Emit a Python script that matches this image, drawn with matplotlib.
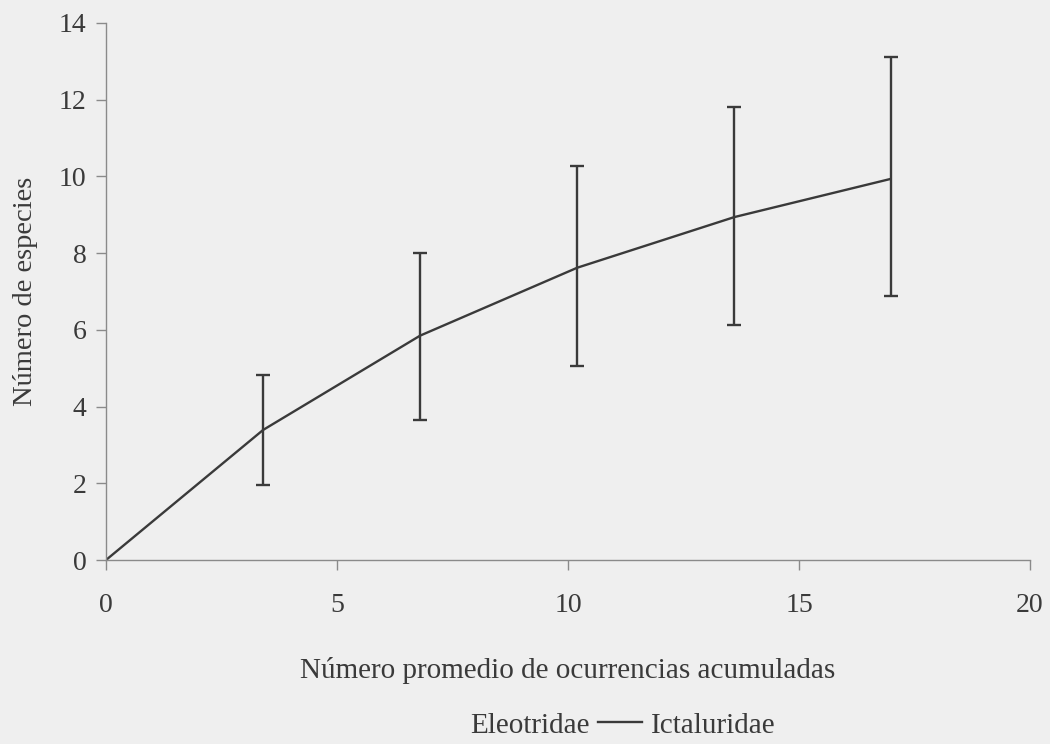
import numpy as np
import matplotlib
matplotlib.use("Agg")
import matplotlib.pyplot as plt
from matplotlib.lines import Line2D

# Species accumulation curve (Ictaluridae) with error bars
occurrences = [0, 3.4, 6.8, 10.2, 13.6, 17.0]
species_mean = [0, 3.39, 5.85, 7.62, 8.94, 9.94]
species_upper = [0, 4.83, 8.01, 10.26, 11.82, 13.11]
species_lower = [0, 1.95, 3.64, 5.07, 6.12, 6.88]
series_names = ["Eleotridae", "Ictaluridae"]
x_ticks = [0, 5, 10, 15, 20]
y_ticks = [0, 2, 4, 6, 8, 10, 12, 14]

bg = "#efefef"
ink = "#3a3a3a"
axis_col = "#8a8a8a"

plt.rcParams["font.family"] = ["Liberation Serif", "DejaVu Serif"]

fig = plt.figure(figsize=(10.5, 7.44), dpi=100, facecolor=bg)
ax = fig.add_axes([106 / 1050, 1 - 560 / 744, (1030 - 106) / 1050, (560 - 23) / 744])
ax.set_facecolor(bg)

x = np.array(occurrences)
y = np.array(species_mean)
yerr = np.vstack([y - np.array(species_lower), np.array(species_upper) - y])
# no bar at the origin
mask = x > 0

ax.plot(x, y, color=ink, lw=1.7, solid_capstyle="butt")
ax.errorbar(x[mask], y[mask], yerr=yerr[:, mask], fmt="none", ecolor=ink,
            elinewidth=1.7, capsize=5, capthick=1.7)

ax.set_xlim(0, 20)
ax.set_ylim(0, 14)
ax.set_xticks(x_ticks)
ax.set_yticks(y_ticks)
for s in ["top", "right"]:
    ax.spines[s].set_visible(False)
for s in ["left", "bottom"]:
    ax.spines[s].set_color(axis_col)
    ax.spines[s].set_linewidth(1.0)
ax.tick_params(axis="both", colors=axis_col, labelcolor=ink, labelsize=20,
               length=7, width=1.0, direction="out")
ax.tick_params(axis="x", pad=17)
ax.tick_params(axis="y", pad=7)

ax.set_xlabel("Número promedio de ocurrencias acumuladas", fontsize=21,
              color=ink, labelpad=28)
ax.set_ylabel("Número de especies", fontsize=20.5, color=ink, labelpad=15)

handles = [Line2D([], [], color="none"), Line2D([], [], color=ink, lw=1.7)]
fig.legend(handles, series_names, loc="center", bbox_to_anchor=(0.568, 0.025),
           ncol=2, frameon=False, fontsize=21, handlelength=1.5,
           handletextpad=0.3, columnspacing=0.3, labelcolor=ink,
           borderpad=0.0, borderaxespad=0.0)

fig.savefig("out.png", dpi=100, facecolor=bg)
